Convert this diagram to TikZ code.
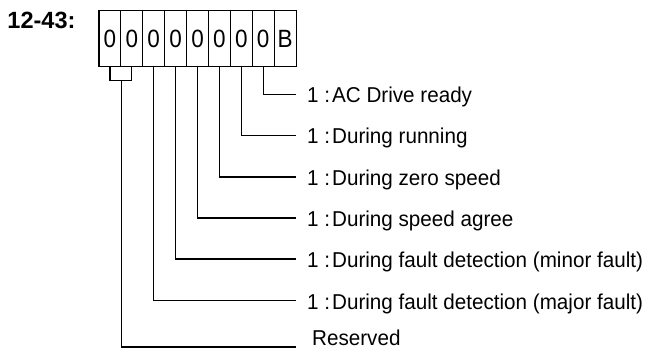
\documentclass[tikz,border=0pt]{standalone}
\usepackage{fontspec}
\setmainfont{Liberation Sans}
\newfontfamily\lblfont[FakeStretch=0.96]{Liberation Sans}
\newfontfamily\boxfont[FakeStretch=0.9]{Liberation Sans}
\newcommand{\oneis}{1 :\hspace{2pt}}
\begin{document}
\begin{tikzpicture}[x=1pt,y=-1pt,
  cell/.style={draw,line width=1.1pt,minimum width=21.9pt,minimum height=56pt,inner sep=0pt,outer sep=0pt,font=\boxfont\fontsize{25}{28}\selectfont},
  lbl/.style={anchor=base west,inner sep=0pt,font=\lblfont\fontsize{21.5}{24}\selectfont},
  wire/.style={line width=1.1pt}]
\useasboundingbox (0,0) rectangle (646,350);
\node[anchor=base west,inner sep=0pt,font=\bfseries\fontsize{23.5}{26}\selectfont] (title) at (7.3,29) {12-43:};
\foreach \i/\t in {1/0,2/0,3/0,4/0,5/0,6/0,7/0,8/0,9/B}{
  \node[cell] (c\i) at ({99+21.9*(\i-0.5)},38.7) {\t};
}
% label texts
\node[lbl] (l1) at (307,102.7) {\oneis AC Drive ready};
\node[lbl] (l2) at (307,143.7) {\oneis During running};
\node[lbl] (l3) at (307,185.4) {\oneis During zero speed};
\node[lbl] (l4) at (307,226.4) {\oneis During speed agree};
\node[lbl] (l5) at (307,267.4) {\oneis During fault detection (minor fault)};
\node[lbl] (l6) at (307,309.1) {\oneis During fault detection (major fault)};
\node[lbl] (l7) at (312,345.8) {Reserved};
% wire end points
\coordinate (e1) at (295.7,94.3);
\coordinate (e2) at (295.7,135.3);
\coordinate (e3) at (295.7,177);
\coordinate (e4) at (295.7,218);
\coordinate (e5) at (295.7,259);
\coordinate (e6) at (295.7,300.7);
\coordinate (e7) at (295.7,347);
\coordinate (br) at (121.45,80.7);
\draw[wire] (c8.south) |- (e1);
\draw[wire] (c7.south) |- (e2);
\draw[wire] (c6.south) |- (e3);
\draw[wire] (c5.south) |- (e4);
\draw[wire] (c4.south) |- (e5);
\draw[wire] (c3.south) |- (e6);
\draw[wire] (c1.south) |- (br) -| (c2.south);
\draw[wire] (br) |- (e7);
\end{tikzpicture}
\end{document}
